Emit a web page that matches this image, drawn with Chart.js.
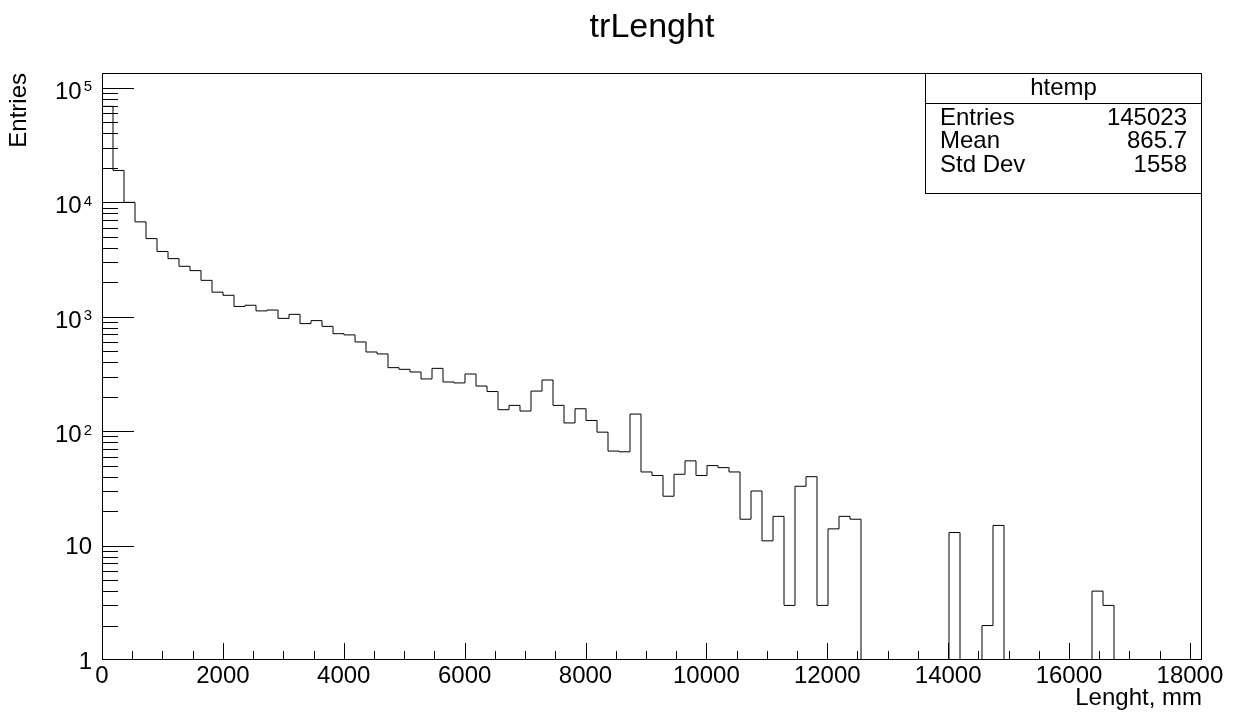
<!DOCTYPE html>
<html>
<head>
<meta charset="utf-8">
<title>trLenght</title>
<script src="https://cdn.jsdelivr.net/npm/chart.js@4.4.0/dist/chart.umd.min.js"></script>
<style>
  html, body { margin: 0; padding: 0; background: #fff; }
  #wrap { width: 1241px; height: 715px; }
</style>
</head>
<body>
<div id="wrap"><canvas id="myChart" width="1241" height="715"></canvas></div>
<script>
// histogram htemp: 100 bins of 182 mm from 0 to 18200
const binWidth = 182;
const counts = [
  69000, 19000, 10000, 6750, 4820, 3720, 3220, 2760, 2530, 2080,
  1640, 1540, 1230, 1260, 1125, 1145, 968, 1050, 871, 925,
  824, 711, 694, 602, 492, 473, 359, 347, 329, 286,
  354, 269, 264, 316, 248, 222, 154, 168, 150, 224,
  280, 168, 118, 157, 124, 98, 67, 66, 141, 44,
  41, 27, 42, 55, 41, 50, 48, 44, 17, 30,
  11, 18, 3, 33, 40, 3, 14, 18, 17, 0,
  0, 0, 0, 0, 0, 0, 0, 13, 0, 0,
  2, 15, 0, 0, 0, 0, 0, 0, 0, 0,
  4, 3, 0, 0, 0, 0, 0, 0, 0, 0,
];
const xTicks = [0, 2000, 4000, 6000, 8000, 10000, 12000, 14000, 16000, 18000];
const yTicks = [1, 10, 100, 1000, 10000, 100000];
const yTickExponents = [0, 1, 2, 3, 4, 5];
const titleText = "trLenght";
const statsTitle = "htemp";
const statsNames = ["Entries", "Mean", "Std Dev"];
const statsValues = ["145023", "865.7", "1558"];

const xMax = counts.length * binWidth;
const yMin = 1;
const yMax = 135000;

// empty bins sit on the bottom of the frame, like ROOT does
const points = counts.map((c, i) => ({ x: i * binWidth, y: c > 0 ? c : yMin }));
points.push({ x: xMax, y: yMin });

const FONT = "'Liberation Sans', Arial, sans-serif";
Chart.defaults.font.family = FONT;
Chart.defaults.color = "#000";

const frameTicks = {
  id: "frameTicks",
  afterDatasetsDraw(chart) {
    const { ctx, chartArea: a, scales } = chart;
    ctx.save();
    ctx.strokeStyle = "#000";
    ctx.lineWidth = 1;
    ctx.strokeRect(a.left + 0.5, a.top + 0.5, a.right - a.left - 1, a.bottom - a.top - 1);

    ctx.beginPath();
    // x ticks, pointing up into the frame
    for (let v = 500; v <= 18000; v += 500) {
      const px = Math.round(scales.x.getPixelForValue(v)) + 0.5;
      const len = v % 2000 === 0 ? 17 : 9;
      ctx.moveTo(px, a.bottom);
      ctx.lineTo(px, a.bottom - len);
    }
    // y ticks, pointing right into the frame
    yTicks.forEach((d) => {
      for (let m = 1; m <= 9; m++) {
        const v = d * m;
        if (v > yMax) break;
        if (v === yMin) continue;
        const py = Math.round(scales.y.getPixelForValue(v)) + 0.5;
        const len = m === 1 ? 32 : 16;
        ctx.moveTo(a.left, py);
        ctx.lineTo(a.left + len, py);
      }
    });
    ctx.stroke();
    ctx.restore();
  },
};

// ROOT style texts: title over the frame, 10^n labels, stats box
const rootTexts = {
  id: "rootTexts",
  afterDraw(chart) {
    const { ctx, chartArea: a, scales } = chart;
    ctx.save();
    ctx.fillStyle = "#000";

    ctx.font = "34px " + FONT;
    ctx.textAlign = "center";
    ctx.textBaseline = "alphabetic";
    ctx.fillText(titleText, (a.left + a.right) / 2, 37);

    const right = a.left - 10;
    yTicks.forEach((v, i) => {
      const e = yTickExponents[i];
      const py = scales.y.getPixelForValue(v);
      ctx.textAlign = "right";
      if (e < 2) {
        ctx.font = "24px " + FONT;
        ctx.fillText(e === 0 ? "1" : "10", right, py + 8.5);
      } else {
        ctx.font = "15px " + FONT;
        const sup = String(e);
        const supW = ctx.measureText(sup).width;
        ctx.fillText(sup, right, py + 3.5);
        ctx.font = "24px " + FONT;
        ctx.fillText("10", right - supW - 2, py + 11);
      }
    });

    const left = 925, boxRight = a.right, top = a.top, bottom = 193, sep = 103;
    ctx.fillStyle = "#fff";
    ctx.fillRect(left, top, boxRight - left, bottom - top);
    ctx.strokeStyle = "#000";
    ctx.lineWidth = 1;
    ctx.strokeRect(left + 0.5, top + 0.5, boxRight - left - 1, bottom - top);
    ctx.beginPath();
    ctx.moveTo(left, sep + 0.5);
    ctx.lineTo(boxRight, sep + 0.5);
    ctx.stroke();

    ctx.fillStyle = "#000";
    ctx.font = "24px " + FONT;
    ctx.textBaseline = "middle";
    ctx.textAlign = "center";
    ctx.fillText(statsTitle, (left + boxRight) / 2, 88);
    const rowY = [118, 141, 165];
    statsNames.forEach((name, i) => {
      ctx.textAlign = "left";
      ctx.fillText(name, left + 15, rowY[i]);
      ctx.textAlign = "right";
      ctx.fillText(statsValues[i], boxRight - 15, rowY[i]);
    });
    ctx.restore();
  },
};

const ctx = document.getElementById("myChart").getContext("2d");

const myChart = new Chart(ctx, {
  type: "line",
  data: {
    datasets: [
      {
        label: "htemp",
        data: points,
        stepped: true,
        borderColor: "#000",
        borderWidth: 1,
        pointRadius: 0,
        fill: false,
      },
    ],
  },
  options: {
    responsive: false,
    animation: false,
    layout: { padding: { left: 0, right: 39, top: 73, bottom: 0 } },
    plugins: {
      legend: { display: false },
      tooltip: { enabled: false },
      title: { display: false },
    },
    scales: {
      x: {
        type: "linear",
        min: 0,
        max: xMax,
        afterBuildTicks: (s) => {
          s.ticks = xTicks.map((v) => ({ value: v }));
        },
        afterFit: (s) => {
          s.height = 55;
        },
        grid: { display: false },
        border: { display: false },
        ticks: {
          font: { size: 24 },
          color: "#000",
          padding: -6,
          maxRotation: 0,
          autoSkip: false,
          callback: (v) => String(v),
        },
        title: {
          display: true,
          text: "Lenght, mm",
          align: "end",
          color: "#000",
          font: { size: 24 },
          padding: { top: 0, bottom: 2 },
        },
      },
      y: {
        type: "logarithmic",
        min: yMin,
        max: yMax,
        afterBuildTicks: (s) => {
          s.ticks = yTicks.map((v) => ({ value: v }));
        },
        afterFit: (s) => {
          s.width = 102;
        },
        grid: { display: false },
        border: { display: false },
        ticks: { display: false },
        title: {
          display: true,
          text: "Entries",
          align: "end",
          color: "#000",
          font: { size: 24 },
          padding: { top: 5, bottom: 5 },
        },
      },
    },
  },
  plugins: [frameTicks, rootTexts],
});
</script>
</body>
</html>
